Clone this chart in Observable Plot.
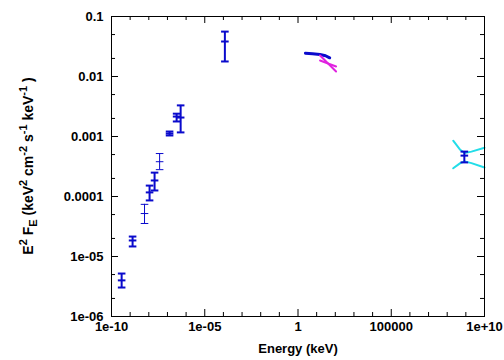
<!DOCTYPE html>
<html><head><meta charset="utf-8">
<script src="https://cdn.jsdelivr.net/npm/d3@7"></script>
<script src="https://cdn.jsdelivr.net/npm/@observablehq/plot@0.6"></script>
<style>
body{margin:0;background:#fff}
#chart svg{font-family:"Liberation Sans",Arial,sans-serif}
</style>
</head><body><div id="chart"></div>
<script>
// Data points with vertical error bars
const ptEnergy = [3.5e-10, 1.35e-9, 5.9e-9, 1.1e-8, 2.04e-8, 3.8e-8, 1.3e-7, 3.1e-7, 5.1e-7, 1.2e-4, 8.3e8];
const ptFlux   = [4.0e-6, 1.85e-5, 5.2e-5, 1.17e-4, 1.85e-4, 3.8e-4, 1.12e-3, 2.15e-3, 2.07e-3, 0.0383, 4.8e-4];
const ptLow    = [3.04e-6, 1.47e-5, 3.55e-5, 8.6e-5, 1.26e-4, 2.8e-4, 1.04e-3, 1.78e-3, 1.17e-3, 0.0178, 3.7e-4];
const ptHigh   = [5.2e-6, 2.15e-5, 7.4e-5, 1.52e-4, 2.5e-4, 5.2e-4, 1.21e-3, 2.4e-3, 3.3e-3, 0.056, 5.6e-4];
const ptThin   = [false, false, true, false, false, true, false, false, false, false, false];

// X-ray spectrum (blue line)
const xrtEnergy = [2.5, 6, 15, 30, 50];
const xrtFlux   = [0.0245, 0.024, 0.0233, 0.0222, 0.0205];

// Magenta butterfly
const bfMagEnergy = [15.2, 110];
const bfMagA = [0.0224, 0.0121];
const bfMagB = [0.0185, 0.0147];

// Cyan butterfly
const bfCyanEnergy = [2.1e8, 5e8, 8.5e8, 2e9, 1e10];
const bfCyanUpper  = [8.5e-4, 6e-4, 5.3e-4, 5.6e-4, 6.5e-4];
const bfCyanLower  = [2.95e-4, 3.6e-4, 3.85e-4, 3.6e-4, 3.05e-4];

// Ticks
const xMajor = [1e-10, 1e-5, 1, 1e5, 1e10];
const xMajorLabels = ["1e-10", "1e-05", "1", "100000", "1e+10"];
const xMinor = [1e-9, 1e-8, 1e-7, 1e-6, 1e-4, 1e-3, 1e-2, 1e-1, 10, 100, 1e3, 1e4, 1e6, 1e7, 1e8, 1e9];
const yMajor = [1e-6, 1e-5, 1e-4, 1e-3, 1e-2, 0.1];
const yMajorLabels = ["1e-06", "1e-05", "0.0001", "0.001", "0.01", "0.1"];
const yMinor = [2e-6, 5e-6, 2e-5, 5e-5, 2e-4, 5e-4, 2e-3, 5e-3, 0.02, 0.05];

const xLabel = "Energy (keV)";

const points = ptEnergy.map((e, i) => ({E: e, F: ptFlux[i], lo: ptLow[i], hi: ptHigh[i], thin: ptThin[i]}));
const boldPts = points.filter(d => !d.thin);
const thinPts = points.filter(d => d.thin);
const xrt = xrtEnergy.map((e, i) => ({E: e, F: xrtFlux[i]}));
const magA = bfMagEnergy.map((e, i) => ({E: e, F: bfMagA[i]}));
const magB = bfMagEnergy.map((e, i) => ({E: e, F: bfMagB[i]}));
const cyU = bfCyanEnergy.map((e, i) => ({E: e, F: bfCyanUpper[i]}));
const cyL = bfCyanEnergy.map((e, i) => ({E: e, F: bfCyanLower[i]}));

const hline = {draw(ctx, size) { const r = Math.sqrt(size / Math.PI); ctx.moveTo(-r, 0); ctx.lineTo(r, 0); }};
const BLUE = "#0a0acc";
const W = 504, H = 360, ML = 111, MR = 20, MT = 16, MB = 44;
const PW = W - ML - MR, PH = H - MT - MB;
const MAJ = 7, MIN = 4;

function errMarks(data, sw, color) {
  return [
    Plot.ruleX(data, {x: "E", y1: "lo", y2: "hi", stroke: color, strokeWidth: sw}),
    Plot.dot(data, {x: "E", y: "lo", symbol: hline, r: 3.8, stroke: color, strokeWidth: sw, fill: "none"}),
    Plot.dot(data, {x: "E", y: "hi", symbol: hline, r: 3.8, stroke: color, strokeWidth: sw, fill: "none"}),
    Plot.dot(data, {x: "E", y: "F", symbol: hline, r: 3.8, stroke: color, strokeWidth: sw, fill: "none"})
  ];
}

const chart = Plot.plot({
  width: W, height: H,
  marginLeft: ML, marginRight: MR, marginTop: MT, marginBottom: MB,
  style: {fontFamily: "'Liberation Sans', Arial, sans-serif", fontSize: "13px", fontWeight: "bold", color: "black", background: "white", overflow: "visible"},
  x: {type: "log", domain: [1e-10, 1e10]},
  y: {type: "log", domain: [1e-6, 0.1]},
  marks: [
    // inward ticks
    Plot.tickY(yMajor, {y: d => d, insetRight: PW - MAJ, stroke: "black"}),
    Plot.tickY(yMajor, {y: d => d, insetLeft: PW - MAJ, stroke: "black"}),
    Plot.tickY(yMinor, {y: d => d, insetRight: PW - MIN, stroke: "black"}),
    Plot.tickY(yMinor, {y: d => d, insetLeft: PW - MIN, stroke: "black"}),
    Plot.tickX(xMajor, {x: d => d, insetTop: PH - MAJ, stroke: "black"}),
    Plot.tickX(xMajor, {x: d => d, insetBottom: PH - MAJ, stroke: "black"}),
    Plot.tickX(xMinor, {x: d => d, insetTop: PH - MIN, stroke: "black"}),
    Plot.tickX(xMinor, {x: d => d, insetBottom: PH - MIN, stroke: "black"}),
    Plot.axisX(xMajor, {tickSize: 0, tickPadding: 5, tickFormat: (d, i) => xMajorLabels[xMajor.indexOf(d)], label: null, fontWeight: "bold"}),
    Plot.axisY(yMajor, {tickSize: 0, tickPadding: 8, tickFormat: d => yMajorLabels[yMajor.indexOf(d)], label: null, fontWeight: "bold"}),
    Plot.text([xLabel], {frameAnchor: "bottom", dy: 36, text: d => d, fontSize: 13, fontWeight: "bold"}),
    // data
    Plot.line(xrt, {x: "E", y: "F", stroke: BLUE, strokeWidth: 3}),
    Plot.line(magA, {x: "E", y: "F", stroke: "#e022e0", strokeWidth: 2}),
    Plot.line(magB, {x: "E", y: "F", stroke: "#e022e0", strokeWidth: 2}),
    Plot.line(cyU, {x: "E", y: "F", stroke: "#22dde8", strokeWidth: 2}),
    Plot.line(cyL, {x: "E", y: "F", stroke: "#22dde8", strokeWidth: 2}),
    ...errMarks(boldPts, 2, BLUE),
    ...errMarks(thinPts, 1, BLUE),
    Plot.frame({stroke: "black", strokeWidth: 1})
  ]
});

// Y-axis label with super/subscripts
const svg = d3.select(chart);
const t = svg.append("text")
  .attr("transform", `translate(33,${MT + PH / 2}) rotate(-90)`)
  .attr("text-anchor", "middle")
  .attr("font-size", 14)
  .attr("font-weight", "bold")
  .attr("fill", "black");
const parts = [["E",0],["2",1],[" F",0],["E",-1],[" (keV",0],["2",1],[" cm",0],["-2",1],[" s",0],["-1",1],[" keV",0],["-1",1],[" )",0]];
let cur = 0;
for (const [s, lvl] of parts) {
  const shift = lvl === 1 ? -6 : lvl === -1 ? 4 : 0;
  t.append("tspan")
    .attr("dy", shift - cur)
    .attr("font-size", lvl === 0 ? 14 : 11)
    .text(s);
  cur = shift;
}
document.getElementById("chart").appendChild(chart);
</script>
</body></html>
